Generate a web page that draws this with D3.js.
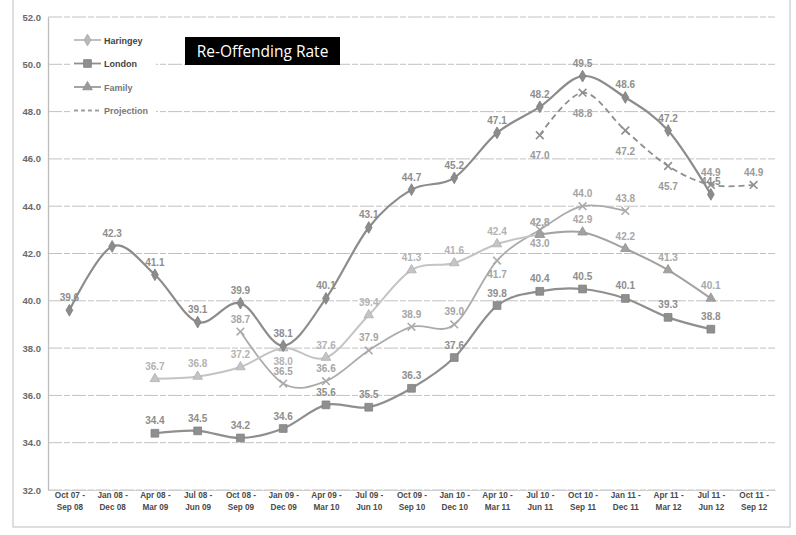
<!DOCTYPE html>
<html>
<head>
<meta charset="utf-8">
<script src="https://cdn.jsdelivr.net/npm/d3@7"></script>
<style>
  html, body { margin: 0; padding: 0; background: #fff; }
  svg { display: block; font-family: "Liberation Sans", Arial, sans-serif; }
</style>
</head>
<body>
<svg id="chart" width="796" height="535"></svg>
<script>
// Rolling 12-month periods
const categories = [
  "Oct 07 -|Sep 08", "Jan 08 -|Dec 08", "Apr 08 -|Mar 09", "Jul 08 -|Jun 09",
  "Oct 08 -|Sep 09", "Jan 09 -|Dec 09", "Apr 09 -|Mar 10", "Jul 09 -|Jun 10",
  "Oct 09 -|Sep 10", "Jan 10 -|Dec 10", "Apr 10 -|Mar 11", "Jul 10 -|Jun 11",
  "Oct 10 -|Sep 11", "Jan 11 -|Dec 11", "Apr 11 -|Mar 12", "Jul 11 -|Jun 12",
  "Oct 11 -|Sep 12"
];

// Re-offending rates (%), null where a series has no value
const haringey = [39.6, 42.3, 41.1, 39.1, 39.9, 38.1, 40.1, 43.1, 44.7, 45.2, 47.1, 48.2, 49.5, 48.6, 47.2, 44.5, null];
const london = [null, null, 34.4, 34.5, 34.2, 34.6, 35.6, 35.5, 36.3, 37.6, 39.8, 40.4, 40.5, 40.1, 39.3, 38.8, null];
const family = [null, null, 36.7, 36.8, 37.2, 38.0, 37.6, 39.4, 41.3, 41.6, 42.4, 42.8, null, null, null, null, null];
const familyLater = [null, null, null, null, null, null, null, null, null, null, null, 42.8, 42.9, 42.2, 41.3, 40.1, null];
const comparator = [null, null, null, null, 38.7, 36.5, 36.6, 37.9, 38.9, 39.0, 41.7, 43.0, 44.0, 43.8, null, null, null];
const projection = [null, null, null, null, null, null, null, null, null, null, null, 47.0, 48.8, 47.2, 45.7, 44.9, 44.9];

const yTicks = [32, 34, 36, 38, 40, 42, 44, 46, 48, 50, 52];
const legendNames = ["Haringey", "London", "Family", "Projection"];

// Label placement per point: "a" above, "b" below, "-" none
const labelSides = {
  haringey:    "aaaaaaaaaaaaaaaa-",
  london:      "--aaaaaaaaaaaaaa-",
  family:      "--aaabaaaaaa-----",
  familyLater: "-----------aaaaa-",
  comparator:  "----aaaaaabbaa---",
  projection:  "-----------bbbbaa"
};

const svg = d3.select("#chart");
const W = 796, H = 535;
const plot = { left: 48, right: 775, top: 17, bottom: 490 };

const x = d3.scalePoint().domain(d3.range(categories.length))
  .range([plot.left, plot.right]).padding(0.5);
const y = d3.scaleLinear().domain([32, 52]).range([plot.bottom, plot.top]);

// Outer chart border
svg.append("rect").attr("x", 13).attr("y", -10).attr("width", 777).attr("height", 537)
  .attr("fill", "none").attr("stroke", "#c9c9c9").attr("stroke-width", 1.2);

// Horizontal gridlines
svg.append("g").selectAll("line").data(yTicks).join("line")
  .attr("x1", plot.left).attr("x2", plot.right)
  .attr("y1", d => y(d)).attr("y2", d => y(d))
  .attr("stroke", "#c2c2c2").attr("stroke-width", 1)
  .attr("stroke-dasharray", "14,2,6,2");

// Y axis
const yAxis = d3.axisLeft(y).tickValues(yTicks).tickFormat(d3.format(".1f")).tickSize(0).tickPadding(7);
const gy = svg.append("g").attr("transform", `translate(${plot.left},0)`).call(yAxis);
gy.select(".domain").attr("stroke", "#bdbdbd").attr("stroke-width", 1.3);
gy.selectAll("text").attr("font-size", 9.5).attr("font-weight", "bold").attr("fill", "#6a6a6a");

// X axis category labels (two lines)
const xAxis = d3.axisBottom(x).tickSize(0).tickFormat(() => "");
const gx = svg.append("g").attr("transform", `translate(0,${plot.bottom})`).call(xAxis);
gx.select(".domain").attr("stroke", "#cfcfcf");
gx.selectAll(".tick").each(function(i) {
  const parts = categories[i].split("|");
  const t = d3.select(this).append("text")
    .attr("text-anchor", "middle").attr("font-size", 8.2).attr("fill", "#4a4a4a").attr("font-weight", "bold");
  t.append("tspan").attr("x", 0).attr("y", 8).text(parts[0]);
  t.append("tspan").attr("x", 0).attr("y", 20).text(parts[1]);
});

// Legend
const legend = svg.append("g");
legend.append("rect").attr("x", 70).attr("y", 30).attr("width", 86).attr("height", 90).attr("fill", "#fff");

// Series definitions
const smooth = d3.curveCardinal.tension(0);
const series = [
  { key: "comparator", values: comparator, color: "#ababab", width: 1.8, marker: "x", label: "#a5a5a5" },
  { key: "family", values: family, color: "#c4c4c4", width: 2, marker: "triangle", label: "#b3b3b3" },
  { key: "familyLater", values: familyLater, color: "#a2a2a2", width: 2, marker: "triangle", label: "#a8a8a8" },
  { key: "london", values: london, color: "#8f8f8f", width: 2.2, marker: "square", label: "#8e8e8e" },
  { key: "projection", values: projection, color: "#8f8f8f", width: 1.8, marker: "x", dash: "6,4", label: "#9a9a9a" },
  { key: "haringey", values: haringey, color: "#8c8c8c", width: 2.2, marker: "diamond", label: "#8e8e8e" }
];

const symbolFor = {
  square: d3.symbol().type(d3.symbolSquare).size(60),
  triangle: d3.symbol().type(d3.symbolTriangle).size(40),
  diamond: d3.symbol().type(d3.symbolDiamond).size(40),
  x: d3.symbol().type(d3.symbolX).size(40)
};

function drawMarker(g, type, color, cx, cy) {
  const p = g.append("path").attr("d", symbolFor[type]()).attr("transform", `translate(${cx},${cy})`);
  if (type === "x") p.attr("fill", "none").attr("stroke", color).attr("stroke-width", 1.6);
  else p.attr("fill", color).attr("stroke", d3.color(color).darker(0.3)).attr("stroke-width", 0.8);
}

const line = d3.line()
  .defined(d => d.v != null)
  .x(d => x(d.i)).y(d => y(d.v))
  .curve(smooth);

series.forEach(s => {
  const pts = s.values.map((v, i) => ({ i, v }));
  const g = svg.append("g");
  g.append("path").datum(pts).attr("d", line)
    .attr("fill", "none").attr("stroke", s.color).attr("stroke-width", s.width)
    .attr("stroke-dasharray", s.dash || null).attr("stroke-linejoin", "round");
  pts.filter(d => d.v != null).forEach(d => drawMarker(g, s.marker, s.color, x(d.i), y(d.v)));
  const sides = labelSides[s.key];
  pts.filter(d => d.v != null && sides[d.i] !== "-").forEach(d => {
    const below = sides[d.i] === "b";
    const dy = below ? (s.key === "projection" ? 24 : 17) : -9;
    g.append("text")
      .attr("x", x(d.i)).attr("y", y(d.v) + dy)
      .attr("text-anchor", "middle").attr("font-size", 10).attr("font-weight", "bold")
      .attr("fill", s.label).text(d3.format(".1f")(d.v));
  });
});

// Legend entries
const legendStyles = [
  { color: "#b9b9b9", marker: "diamond" },
  { color: "#8f8f8f", marker: "square" },
  { color: "#9a9a9a", marker: "triangle" },
  { color: "#a0a0a0", marker: null, dash: "4,3" }
];
legendNames.forEach((name, k) => {
  const ly = 40 + k * 23.5;
  const st = legendStyles[k];
  legend.append("line").attr("x1", 74).attr("x2", 101).attr("y1", ly).attr("y2", ly)
    .attr("stroke", st.color).attr("stroke-width", 1.8).attr("stroke-dasharray", st.dash || null);
  if (st.marker) drawMarker(legend, st.marker, st.color, 87.5, ly);
  legend.append("text").attr("x", 104).attr("y", ly + 3.5)
    .attr("font-size", 9).attr("font-weight", "bold").attr("fill", k < 2 ? "#444" : "#777").text(name);
});

// Chart tag
svg.append("rect").attr("x", 185).attr("y", 37).attr("width", 155).attr("height", 28).attr("fill", "#000");
svg.append("text").attr("x", 262.5).attr("y", 57).attr("text-anchor", "middle")
  .attr("font-family", "'Open Sans', 'Noto Sans', sans-serif").attr("font-size", 15.5)
  .attr("fill", "#fff").text("Re-Offending Rate");
</script>
</body>
</html>
